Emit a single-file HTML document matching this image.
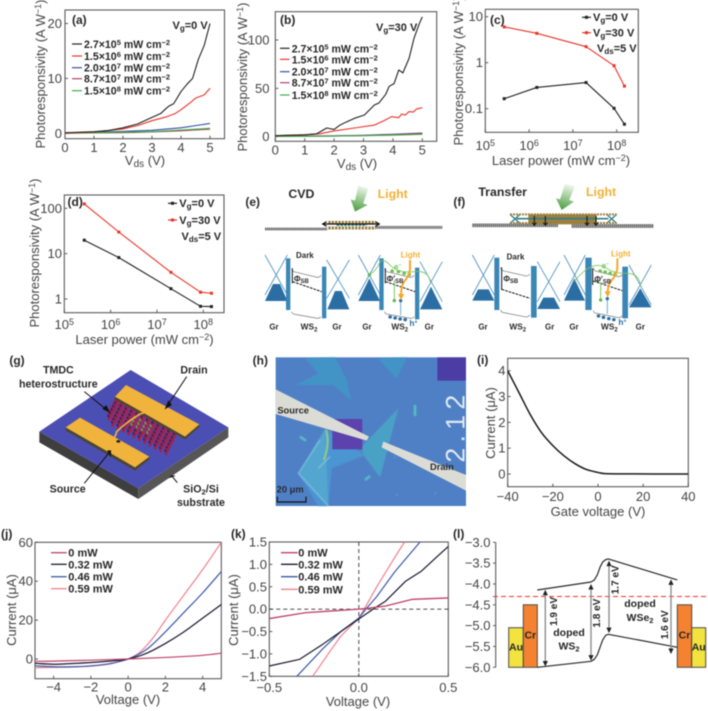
<!DOCTYPE html>
<html lang="en">
<head>
<meta charset="utf-8">
<title>Photoresponsivity figure</title>
<style>
html,body{margin:0;padding:0;background:#fff;width:708px;height:711px;overflow:hidden}
svg{display:block;filter:blur(0.4px)}
text{font-family:"Liberation Sans",Arial,sans-serif;fill:#333}
.b{font-weight:bold;fill:#262626}
.t{font-size:13px;fill:#444}
.leg{font-size:10.6px;font-weight:bold;fill:#262626}
.pl{font-size:12px;font-weight:bold;fill:#262626}
.z{font-weight:bold;fill:#2a2a2a}
.lightlab{font-weight:bold;fill:#f2b033}
</style>
</head>
<body>
<svg id="fig" xmlns="http://www.w3.org/2000/svg" width="708" height="711" viewBox="0 0 708 711">
<defs>
<linearGradient id="greenArrow" x1="0.6" y1="0" x2="0.4" y2="1"><stop offset="0" stop-color="#f0f7ec"/><stop offset="1" stop-color="#4c9f42"/></linearGradient>
<filter id="softH"><feGaussianBlur stdDeviation="1.5"/></filter>
</defs>
<g id="charts"></g>

<!-- Panel a text -->
<g>
<text class="pl" x="72" y="24">(a)</text>
<text class="b" font-size="11" x="172.5" y="29">V<tspan font-size="8" dy="2">g</tspan><tspan dy="-2">=0 V</tspan></text>
<text class="t" transform="translate(45 74) rotate(-90)" text-anchor="middle">Photoresponsivity (A W<tspan font-size="9" dy="-4">−1</tspan><tspan dy="4">)</tspan></text>
<text class="t" x="145" y="165" text-anchor="middle">V<tspan font-size="10" dy="2">ds</tspan><tspan dy="-2"> (V)</tspan></text>
<g>
<line x1="72" x2="82" y1="44" y2="44" stroke="#222" stroke-width="1.2"/>
<text class="leg" x="84" y="48">2.7×10<tspan font-size="7.5" dy="-3">5</tspan><tspan dy="3"> mW cm</tspan><tspan font-size="7.5" dy="-3">−2</tspan></text>
<line x1="72" x2="82" y1="56" y2="56" stroke="#e8352a" stroke-width="1.2"/>
<text class="leg" x="84" y="60">1.5×10<tspan font-size="7.5" dy="-3">6</tspan><tspan dy="3"> mW cm</tspan><tspan font-size="7.5" dy="-3">−2</tspan></text>
<line x1="72" x2="82" y1="67.7" y2="67.7" stroke="#2f4f9f" stroke-width="1.2"/>
<text class="leg" x="84" y="71.7">2.0×10<tspan font-size="7.5" dy="-3">7</tspan><tspan dy="3"> mW cm</tspan><tspan font-size="7.5" dy="-3">−2</tspan></text>
<line x1="72" x2="82" y1="78.7" y2="78.7" stroke="#b0405f" stroke-width="1.2"/>
<text class="leg" x="84" y="82.7">8.7×10<tspan font-size="7.5" dy="-3">7</tspan><tspan dy="3"> mW cm</tspan><tspan font-size="7.5" dy="-3">−2</tspan></text>
<line x1="72" x2="82" y1="90.7" y2="90.7" stroke="#3fae49" stroke-width="1.2"/>
<text class="leg" x="84" y="94.7">1.5×10<tspan font-size="7.5" dy="-3">8</tspan><tspan dy="3"> mW cm</tspan><tspan font-size="7.5" dy="-3">−2</tspan></text>
</g>
</g>

<!-- Panel b text -->
<g>
<text class="pl" x="280" y="24">(b)</text>
<text class="b" font-size="11" x="376" y="31">V<tspan font-size="8" dy="2">g</tspan><tspan dy="-2">=30 V</tspan></text>
<text class="t" transform="translate(247 77) rotate(-90)" text-anchor="middle">Photoresponsivity (A W<tspan font-size="9" dy="-4">−1</tspan><tspan dy="4">)</tspan></text>
<text class="t" x="357" y="168" text-anchor="middle">V<tspan font-size="10" dy="2">ds</tspan><tspan dy="-2"> (V)</tspan></text>
<g>
<line x1="280" x2="289.5" y1="48.3" y2="48.3" stroke="#222" stroke-width="1.2"/>
<text class="leg" x="291.7" y="52.3">2.7×10<tspan font-size="7.5" dy="-3">5</tspan><tspan dy="3"> mW cm</tspan><tspan font-size="7.5" dy="-3">−2</tspan></text>
<line x1="280" x2="289.5" y1="59.3" y2="59.3" stroke="#e8352a" stroke-width="1.2"/>
<text class="leg" x="291.7" y="63.3">1.5×10<tspan font-size="7.5" dy="-3">6</tspan><tspan dy="3"> mW cm</tspan><tspan font-size="7.5" dy="-3">−2</tspan></text>
<line x1="280" x2="289.5" y1="71.7" y2="71.7" stroke="#2f4f9f" stroke-width="1.2"/>
<text class="leg" x="291.7" y="75.7">2.0×10<tspan font-size="7.5" dy="-3">7</tspan><tspan dy="3"> mW cm</tspan><tspan font-size="7.5" dy="-3">−2</tspan></text>
<line x1="280" x2="289.5" y1="82.7" y2="82.7" stroke="#b0405f" stroke-width="1.2"/>
<text class="leg" x="291.7" y="86.7">8.7×10<tspan font-size="7.5" dy="-3">7</tspan><tspan dy="3"> mW cm</tspan><tspan font-size="7.5" dy="-3">−2</tspan></text>
<line x1="280" x2="289.5" y1="95" y2="95" stroke="#3fae49" stroke-width="1.2"/>
<text class="leg" x="291.7" y="99">1.5×10<tspan font-size="7.5" dy="-3">8</tspan><tspan dy="3"> mW cm</tspan><tspan font-size="7.5" dy="-3">−2</tspan></text>
</g>
</g>

<!-- Panel c text -->
<g>
<text class="pl" x="490" y="24">(c)</text>
<text class="t" transform="translate(463 71) rotate(-90)" text-anchor="middle">Photoresponsivity (A W<tspan font-size="9" dy="-4">−1</tspan><tspan dy="4">)</tspan></text>
<text class="t" x="561" y="165" text-anchor="middle">Laser power (mW cm<tspan font-size="9" dy="-4">−2</tspan><tspan dy="4">)</tspan></text>
<g>
<line x1="582" x2="591" y1="17.3" y2="17.3" stroke="#222" stroke-width="1.2"/>
<rect x="585" y="15.8" width="3" height="3" fill="#222"/>
<text class="b" font-size="11" x="593" y="21">V<tspan font-size="8" dy="2">g</tspan><tspan dy="-2">=0 V</tspan></text>
<line x1="582" x2="591" y1="32.7" y2="32.7" stroke="#e8352a" stroke-width="1.2"/>
<rect x="585" y="31.2" width="3" height="3" fill="#e8352a"/>
<text class="b" font-size="11" x="593" y="36.5">V<tspan font-size="8" dy="2">g</tspan><tspan dy="-2">=30 V</tspan></text>
<text class="b" font-size="11" x="597" y="52">V<tspan font-size="8" dy="2">ds</tspan><tspan dy="-2">=5 V</tspan></text>
</g>
</g>

<!-- Panel d text -->
<g>
<text class="pl" x="67.5" y="206">(d)</text>
<text class="t" transform="translate(39 253) rotate(-90)" text-anchor="middle">Photoresponsivity (A W<tspan font-size="9" dy="-4">−1</tspan><tspan dy="4">)</tspan></text>
<text class="t" x="144.5" y="344" text-anchor="middle">Laser power (mW cm<tspan font-size="9" dy="-4">−2</tspan><tspan dy="4">)</tspan></text>
<g>
<line x1="168" x2="177" y1="203.3" y2="203.3" stroke="#222" stroke-width="1.2"/>
<rect x="171" y="201.8" width="3" height="3" fill="#222"/>
<text class="b" font-size="11" x="179.3" y="207">V<tspan font-size="8" dy="2">g</tspan><tspan dy="-2">=0 V</tspan></text>
<line x1="168" x2="177" y1="220" y2="220" stroke="#e8352a" stroke-width="1.2"/>
<rect x="171" y="218.5" width="3" height="3" fill="#e8352a"/>
<text class="b" font-size="11" x="179.3" y="224">V<tspan font-size="8" dy="2">g</tspan><tspan dy="-2">=30 V</tspan></text>
<text class="b" font-size="11" x="181.5" y="240">V<tspan font-size="8" dy="2">ds</tspan><tspan dy="-2">=5 V</tspan></text>
</g>
</g>

<!-- Panels e and f drawn in 3x local coordinates -->
<g transform="translate(230 170) scale(0.33333)">
<text class="z" font-size="36" x="46" y="108">(e)</text>
<text class="z" font-size="37" x="175" y="84">CVD</text>
<text class="lightlab" font-size="37" x="443" y="84">Light</text>
<polygon points="385,47 415,55 400,100 413,105 375,125 362,88 375,92" fill="url(#greenArrow)"/>
<g>
<line x1="105" x2="292" y1="177" y2="177" stroke="#6e6e6e" stroke-width="8" stroke-dasharray="5 1"/>
<line x1="435" x2="637" y1="172" y2="172" stroke="#777" stroke-width="9" stroke-dasharray="5 1"/>
<line x1="295" x2="437" y1="157" y2="157" stroke="#9c7f3f" stroke-width="9" stroke-dasharray="7 3"/>
<line x1="295" x2="437" y1="174" y2="174" stroke="#9c7f3f" stroke-width="9" stroke-dasharray="7 3"/>
<line x1="320" x2="410" y1="165" y2="165" stroke="#2f7f86" stroke-width="5" stroke-dasharray="8 3"/>
<path d="M278 162H448M290 155L278 162L290 169M436 155L448 162L436 169" fill="none" stroke="#111" stroke-width="3.5"/>
</g>
<!-- e dark -->
<g>
<path d="M105 255L172 375M172 255L105 375" stroke="#4a90c0" stroke-width="2.5" fill="none"/>
<polygon points="105,393 172,393 150,342 129,342" fill="#2b6ea3"/>
<rect x="168" y="265" width="13" height="155" fill="#3a86b5"/>
<rect x="276" y="290" width="13" height="155" fill="#3a86b5"/>
<path d="M290 270L358 385M358 270L290 385" stroke="#4a90c0" stroke-width="2.5" fill="none"/>
<polygon points="292,418 358,418 335,363 315,363" fill="#2b6ea3"/>
<path d="M185 295Q187 305 195 306L262 322Q270 322 273 316M185 425Q187 433 195 433L262 445Q270 445 272 440" fill="none" stroke="#8a8a8a" stroke-width="2.5"/>
<line x1="188" y1="335" x2="275" y2="365" stroke="#111" stroke-width="3" stroke-dasharray="8 3"/>
<line x1="187" x2="187" y1="295" y2="340" stroke="#111" stroke-width="3"/>
<text class="z" font-size="24" x="192" y="334">Φ<tspan font-size="18" dy="5">SB</tspan></text>
<text class="z" font-size="24" x="198" y="264">Dark</text>
<text class="z" font-size="24" x="118" y="479">Gr</text>
<text class="z" font-size="25" x="212" y="479">WS<tspan font-size="18" dy="6">2</tspan></text>
<text class="z" font-size="24" x="307" y="479">Gr</text>
</g>
<!-- e light -->
<g>
<path d="M385 255L451 375M451 255L385 375" stroke="#4a90c0" stroke-width="2.5" fill="none"/>
<polygon points="385,393 450,393 418,325" fill="#2b6ea3"/>
<rect x="448" y="265" width="13" height="155" fill="#3a86b5"/>
<rect x="555" y="293" width="13" height="155" fill="#3a86b5"/>
<path d="M570 275L637 395M637 275L570 395" stroke="#4a90c0" stroke-width="2.5" fill="none"/>
<polygon points="570,418 637,418 603,350" fill="#2b6ea3"/>
<path d="M464 295Q466 305 474 306L541 322Q549 322 552 316M464 425Q466 433 474 433L541 445Q549 445 552 440" fill="none" stroke="#8a8a8a" stroke-width="2.5"/>
<line x1="467" y1="335" x2="555" y2="365" stroke="#111" stroke-width="3" stroke-dasharray="8 3"/>
<line x1="466" x2="466" y1="295" y2="340" stroke="#111" stroke-width="3"/>
<path d="M418 315Q440 300 448 280T480 285T550 305T600 335" fill="none" stroke="#78c85a" stroke-width="2.5"/>
<circle cx="418" cy="315" r="5" fill="#5fb648"/>
<path d="M486 303h1M505 305h1M522 310h1M537 314h1" stroke="#6cc04f" stroke-width="10" stroke-linecap="round"/>
<line x1="493" x2="493" y1="330" y2="392" stroke="#77c463" stroke-width="3"/>
<circle cx="493" cy="392" r="5" fill="#5fb648"/>
<line x1="512" x2="512" y1="392" y2="435" stroke="#6aa9cf" stroke-width="3"/>
<circle cx="512" cy="392" r="5" fill="#2b6ea3"/>
<path d="M540 270V298Q538 318 522 335Q513 348 513 380" fill="none" stroke="#f3a82a" stroke-width="6"/>
<polygon points="504,372 523,372 513,390" fill="#f3a82a"/>
<path d="M480 441h1M495 444h1M510 447h1M525 449h1" stroke="#2b6ea3" stroke-width="10" stroke-linecap="round"/>
<text class="z" font-size="24" x="470" y="334">Φ′<tspan font-size="18" dy="5">SB</tspan></text>
<text class="lightlab" font-size="24" x="512" y="263">Light</text>
<text font-size="24" font-weight="bold" style="fill:#6cc04f" x="492" y="298">e<tspan font-size="15" dy="-8">−</tspan></text>
<text font-size="25" font-weight="bold" style="fill:#2b6ea3" x="538" y="468">h<tspan font-size="16" dy="-8">+</tspan></text>
<text class="z" font-size="24" x="397" y="479">Gr</text>
<text class="z" font-size="25" x="484" y="479">WS<tspan font-size="18" dy="6">2</tspan></text>
<text class="z" font-size="24" x="584" y="479">Gr</text>
</g>

<text class="z" font-size="36" x="670" y="108">(f)</text>
<text class="z" font-size="37" x="745" y="78">Transfer</text>
<text class="lightlab" font-size="37" x="1068" y="78">Light</text>
<polygon points="1005,42 1035,48 1018,90 1032,95 995,120 978,85 990,88" fill="url(#greenArrow)"/>
<g>
<line x1="727" x2="985" y1="166" y2="166" stroke="#6e6e6e" stroke-width="11" stroke-dasharray="5 1"/>
<line x1="1025" x2="1270" y1="168" y2="168" stroke="#6e6e6e" stroke-width="11" stroke-dasharray="5 1"/>
<rect x="895" y="133" width="205" height="30" fill="#9c7f3f"/>
<path d="M840 133L870 160M870 133L840 160M1130 133L1160 160M1160 133L1130 160" stroke="#2f7f86" stroke-width="4"/>
<path d="M840 133H1160M840 159H1160" stroke="#9c7f3f" stroke-width="6" stroke-dasharray="6 3"/>
<line x1="860" x2="1135" y1="146" y2="146" stroke="#2f7f86" stroke-width="5"/>
<path d="M913 138V166M946 138V166M1071 138V166M1098 138V166M907 158L913 166L919 158M940 158L946 166L952 158M1065 158L1071 166L1077 158M1092 158L1098 166L1104 158" fill="none" stroke="#111" stroke-width="3"/>
</g>
<g>
<path d="M727 255L793 375M793 255L727 375" stroke="#4a90c0" stroke-width="2.5" fill="none"/>
<polygon points="727,392 793,392 776,358 744,358" fill="#2b6ea3"/>
<rect x="793" y="263" width="15" height="157" fill="#3a86b5"/>
<rect x="903" y="288" width="17" height="155" fill="#3a86b5"/>
<path d="M922 275L990 395M990 275L922 395" stroke="#4a90c0" stroke-width="2.5" fill="none"/>
<polygon points="922,417 990,417 972,383 940,383" fill="#2b6ea3"/>
<path d="M812 292Q814 302 822 303L888 318Q896 318 899 312M812 420Q814 428 822 428L888 441Q896 441 899 435" fill="none" stroke="#8a8a8a" stroke-width="2.5"/>
<line x1="815" y1="358" x2="900" y2="385" stroke="#111" stroke-width="3" stroke-dasharray="8 3"/>
<line x1="815" x2="815" y1="292" y2="360" stroke="#111" stroke-width="3"/>
<text class="z" font-size="24" x="820" y="334">Φ<tspan font-size="18" dy="5">SB</tspan></text>
<text class="z" font-size="24" x="830" y="269">Dark</text>
<text class="z" font-size="24" x="745" y="479">Gr</text>
<text class="z" font-size="25" x="838" y="479">WS<tspan font-size="18" dy="6">2</tspan></text>
<text class="z" font-size="24" x="945" y="479">Gr</text>
</g>
<g>
<path d="M1002 255L1066 375M1066 255L1002 375" stroke="#4a90c0" stroke-width="2.5" fill="none"/>
<polygon points="1002,392 1065,392 1033,325" fill="#2b6ea3"/>
<rect x="1066" y="263" width="19" height="157" fill="#3a86b5"/>
<rect x="1177" y="290" width="17" height="155" fill="#3a86b5"/>
<path d="M1197 285L1264 405M1264 285L1197 405" stroke="#4a90c0" stroke-width="2.5" fill="none"/>
<polygon points="1197,412 1264,412 1231,355" fill="#2b6ea3"/>
<path d="M1090 293Q1092 303 1100 304L1166 320Q1174 320 1176 314M1090 422Q1092 430 1100 430L1166 443Q1174 443 1176 437" fill="none" stroke="#8a8a8a" stroke-width="2.5"/>
<line x1="1090" y1="333" x2="1177" y2="362" stroke="#111" stroke-width="3" stroke-dasharray="8 3"/>
<line x1="1088" x2="1088" y1="295" y2="345" stroke="#111" stroke-width="3"/>
<path d="M1033 335Q1060 300 1085 290T1130 295T1190 310T1231 350" fill="none" stroke="#78c85a" stroke-width="2.5"/>
<path d="M1110 303h1M1125 306h1M1140 310h1M1155 313h1" stroke="#6cc04f" stroke-width="10" stroke-linecap="round"/>
<line x1="1112" x2="1112" y1="335" y2="390" stroke="#77c463" stroke-width="3"/>
<circle cx="1112" cy="390" r="5" fill="#5fb648"/>
<line x1="1132" x2="1132" y1="385" y2="432" stroke="#6aa9cf" stroke-width="3"/>
<circle cx="1132" cy="386" r="5" fill="#2b6ea3"/>
<path d="M1162 265V295Q1160 315 1144 332Q1133 345 1133 370" fill="none" stroke="#f3a82a" stroke-width="6"/>
<polygon points="1124,364 1142,364 1133,382" fill="#f3a82a"/>
<path d="M1105 438h1M1120 442h1M1136 446h1M1151 449h1" stroke="#2b6ea3" stroke-width="10" stroke-linecap="round"/>
<text class="z" font-size="24" x="1093" y="336">Φ′<tspan font-size="18" dy="5">SB</tspan></text>
<text class="lightlab" font-size="24" x="1143" y="260">Light</text>
<text font-size="24" font-weight="bold" style="fill:#6cc04f" x="1115" y="295">e<tspan font-size="15" dy="-8">−</tspan></text>
<text font-size="25" font-weight="bold" style="fill:#2b6ea3" x="1165" y="465">h<tspan font-size="16" dy="-8">+</tspan></text>
<text class="z" font-size="24" x="1018" y="479">Gr</text>
<text class="z" font-size="25" x="1113" y="479">WS<tspan font-size="18" dy="6">2</tspan></text>
<text class="z" font-size="24" x="1217" y="479">Gr</text>
</g>
</g>

<!-- Panel g -->
<g transform="translate(0 340) scale(0.33333)">
<polygon points="118,275 415,445 415,477 118,307" fill="#3e3e3e"/>
<polygon points="415,445 685,262 685,292 415,477" fill="#565656"/>
<polygon points="392,90 685,262 415,445 118,275" fill="#4b4fb3"/>
<polygon points="197,262 405,382 405,392 197,272" fill="#4a4630"/>
<polygon points="405,382 448,350 448,358 405,392" fill="#4a4630"/>
<g id="lattice"></g>
<polygon points="345,170 555,290 555,298 345,178" fill="#4a4630"/>
<polygon points="555,290 598,253 598,261 555,298" fill="#4a4630"/>
<polygon points="378,135 598,253 555,290 345,170" fill="#f0b33c"/>
<polygon points="197,262 240,233 448,350 405,382" fill="#f0b33c"/>
<path d="M318 312Q345 300 350 275Q375 250 420 222Q445 215 470 205" fill="none" stroke="#f0b33c" stroke-width="5"/>
<ellipse cx="355" cy="304" rx="6" ry="4" fill="#222"/>
<text class="z" font-size="36" x="28" y="74">(g)</text>
<text class="z" font-size="32" x="175" y="100" text-anchor="middle">TMDC</text>
<text class="z" font-size="32" x="175" y="142" text-anchor="middle">heterostructure</text>
<text class="z" font-size="32" x="582" y="100" text-anchor="middle">Drain</text>
<text class="z" font-size="32" x="203" y="458" text-anchor="middle">Source</text>
<text class="z" font-size="32" x="603" y="458" text-anchor="middle">SiO<tspan font-size="23" dy="6">2</tspan><tspan dy="-6">/Si</tspan></text>
<text class="z" font-size="32" x="603" y="498" text-anchor="middle">substrate</text>
<path d="M253 155L323 212M560 110L499 202M253 430L329 336M532 428L517 410" stroke="#111" stroke-width="3" fill="none"/>
<path d="M308 206L328 216L318 196M506 182L496 206L515 194M322 332L332 332L332 350M508 414L515 407L525 408" fill="#111" stroke="#111" stroke-width="2"/>
</g>

<!-- Panel h -->
<g transform="translate(250 340) scale(0.33333)">
<text class="z" font-size="36" x="8" y="74">(h)</text>
<rect x="77" y="52" width="571" height="446" fill="#4f80c6"/>
<g filter="url(#softH)">
<polygon points="137,135 205,100 165,55 255,52 290,120 303,180 250,135" fill="#4394c6"/>
<polygon points="385,55 470,52 440,115 420,95" fill="#4394c6"/>
<polygon points="335,320 445,205 390,412 340,345" fill="#4aa2c6"/>
<polygon points="145,400 225,265 345,345 245,385 235,498 205,498" fill="#4b95d2"/>
<polygon points="145,400 225,270 235,498" fill="#52a6d0"/>
<path d="M228 270Q240 310 222 360" stroke="#9ed66a" stroke-width="5" fill="none"/>
<path d="M145 400L210 300M145 400L235 498M205 385L240 350" stroke="#8fd0de" stroke-width="2.5" fill="none"/>
<path d="M495 195V228M433 350h2M555 460h2M150 290l18 12M440 465h2M345 420l15 -12" stroke="#58c4c4" stroke-width="7" fill="none"/>
</g>
<rect x="247" y="237" width="90" height="91" fill="#5b42ad"/>
<rect x="562" y="52" width="86" height="70" fill="#4b3da3"/>
<polygon points="77,148 357,290 350,302 77,222" fill="#dcdcd6"/>
<polygon points="400,305 648,405 648,452 395,322" fill="#dcdcd6"/>
<text transform="translate(643 368) rotate(-90)" font-size="80" letter-spacing="16" style="fill:#dfe8ee">2.12</text>
<text class="z" font-size="28" x="82" y="221">Source</text>
<text class="z" font-size="28" x="540" y="390">Drain</text>
<text class="z" font-size="28" x="80" y="457">20 μm</text>
<path d="M82 470V486H168V470" fill="none" stroke="#111" stroke-width="3.5"/>
</g>

<!-- Panel i, j, k, l labels -->
<g>
<text class="pl" x="477" y="364">(i)</text>
<text class="t" transform="translate(495 423) rotate(-90)" text-anchor="middle">Current (μA)</text>
<text class="t" x="598" y="516" text-anchor="middle">Gate voltage (V)</text>
</g>
<g>
<text class="pl" x="1" y="538">(j)</text>
<text class="t" transform="translate(16 610) rotate(-90)" text-anchor="middle">Current (μA)</text>
<text class="t" x="128" y="704" text-anchor="middle">Voltage (V)</text>
<g>
<line x1="51" x2="66.7" y1="552.7" y2="552.7" stroke="#c0406a" stroke-width="1.3"/>
<text class="b" font-size="11" x="68.3" y="556.7">0 mW</text>
<line x1="51" x2="66.7" y1="564.3" y2="564.3" stroke="#1a1a2e" stroke-width="1.3"/>
<text class="b" font-size="11" x="68.3" y="568.3">0.32 mW</text>
<line x1="51" x2="66.7" y1="576.7" y2="576.7" stroke="#3c59a8" stroke-width="1.3"/>
<text class="b" font-size="11" x="68.3" y="580.7">0.46 mW</text>
<line x1="51" x2="66.7" y1="588.7" y2="588.7" stroke="#f08090" stroke-width="1.3"/>
<text class="b" font-size="11" x="68.3" y="592.7">0.59 mW</text>
</g>
</g>
<g>
<text class="pl" x="231" y="538">(k)</text>
<text class="t" transform="translate(238 610) rotate(-90)" text-anchor="middle">Current (μA)</text>
<text class="t" x="358" y="706" text-anchor="middle">Voltage (V)</text>
<g>
<line x1="281" x2="297.7" y1="552.7" y2="552.7" stroke="#c0406a" stroke-width="1.3"/>
<text class="b" font-size="11" x="298.3" y="556.7">0 mW</text>
<line x1="281" x2="297.7" y1="564.3" y2="564.3" stroke="#1a1a2e" stroke-width="1.3"/>
<text class="b" font-size="11" x="298.3" y="568.3">0.32 mW</text>
<line x1="281" x2="297.7" y1="576.7" y2="576.7" stroke="#3c59a8" stroke-width="1.3"/>
<text class="b" font-size="11" x="298.3" y="580.7">0.46 mW</text>
<line x1="281" x2="297.7" y1="589.3" y2="589.3" stroke="#f08090" stroke-width="1.3"/>
<text class="b" font-size="11" x="298.3" y="593.3">0.59 mW</text>
</g>
</g>
<g>
<text class="pl" x="453" y="538">(l)</text>
<text class="b" font-size="10.5" x="569" y="636" text-anchor="middle">doped</text>
<text class="b" font-size="10.5" x="569" y="649.5" text-anchor="middle">WS<tspan font-size="7.5" dy="2">2</tspan></text>
<text class="b" font-size="10.5" x="640" y="607" text-anchor="middle">doped</text>
<text class="b" font-size="10.5" x="640" y="621" text-anchor="middle">WSe<tspan font-size="7.5" dy="2">2</tspan></text>
</g>

<script>
/* Panel (a) */
const aVdsBlack = [0,1,1.5,2,2.5,3,3.3,3.5,3.6,3.75,4,4.2,4.4,4.6,4.8,4.9,5];
const aRespBlack = [0.1,0.3,0.5,1.0,1.7,2.9,3.6,4.6,5.0,5.4,7.6,8.9,10,13.5,16,18,20];
const aVdsRed = [0,1,2,2.5,3,3.5,3.8,4,4.3,4.5,4.8,5];
const aRespRed = [0.05,0.25,0.8,1.4,2.3,3.0,3.6,4.3,5.5,6.4,7.0,8.2];
const aVdsThin = [0,2,3,4,4.5,5];
const aRespBlue = [0.05,0.35,0.55,1.0,1.4,1.8];
const aRespPurple = [0.02,0.1,0.25,0.45,0.6,0.75];
const aRespGreen = [0.03,0.2,0.3,0.6,0.75,0.9];
const aXTicks = [0,1,2,3,4,5];
const aYTicks = [0,10,20];

/* Panel (b) */
const bVdsBlack = [0,1,1.4,1.55,1.75,2,2.2,2.4,2.69,3.03,3.37,3.53,3.76,3.87,4.04,4.2,4.34,4.55,4.72,4.9,5];
const bRespBlack = [1,2,3,5.5,9,7.5,12,15,19,22.4,32.8,35,44,52,55,69,66,81,102,117,124];
const bVdsRed = [0,1,1.5,2,2.69,3.37,3.7,3.95,4.2,4.3,4.42,4.55,4.7,4.8,5];
const bRespRed = [1,2,3,6,9,12,16.6,20.7,19.7,23.5,22.4,26,25.5,28.6,30];
const bVdsThin = [0,2,3,4,5];
const bRespBlue = [0.5,0.9,1.5,2.5,3.8];
const bRespPurple = [0.4,0.7,1.2,2.1,3.2];
const bRespGreen = [0.3,0.6,1.0,1.6,2.4];
const bXTicks = [0,1,2,3,4,5];
const bYTicks = [0,50,100];

/* Panels (c), (d) */
const laserPower = [2.7e5,1.5e6,2e7,8.7e7,1.5e8];
const cVg0 = [0.165,0.29,0.37,0.102,0.046];
const cVg30 = [6.0,4.35,2.23,0.86,0.31];
const dVg0 = [19.8,8.2,1.69,0.69,0.68];
const dVg30 = [125,30,3.88,1.41,1.34];
const powerTickExponents = [5,6,7,8];
const cYTicks = [0.1,1,10];
const cYTickLabels = ["0.1","1","10"];
const dYTicks = [1,10,100];
const dYTickLabels = ["1","10","100"];

/* Panel (i) */
const iGate = [-40,-35,-30,-25,-20,-15,-10,-5,0,3,10,40];
const iCurrent = [4,3.15,2.3,1.6,1.1,0.7,0.39,0.17,0.06,0.015,0.005,0];
const iXTicks = [-40,-20,0,20,40];
const iXTickLabels = ["−40","−20","0","20","40"];
const iYTicks = [0,1,2,3,4];

/* Panel (j) */
const jV059 = [-5,-4,-3,-2,-1,-0.5,0,0.5,1,1.5,2,3,4,5];
const jI059 = [-4.5,-4.3,-4.1,-3.7,-2.6,-1.3,0,2.5,7,13,20,33,46,60];
const jV046 = [-5,-4,-3,-2,-1,0,1,2,3,4,5];
const jI046 = [-3.5,-4,-4,-3.5,-2.4,0,5,14,24,34,45];
const jI032 = [-2.2,-2.7,-2.3,-1.8,-1.1,0,3,8,14,21,28];
const jV000 = [-5,-4,-2,0,2,4,5];
const jI000 = [-1.2,-1.1,-0.6,0,0.8,1.9,3];
const jXTicks = [-4,-2,0,2,4];
const jXTickLabels = ["−4","−2","0","2","4"];
const jYTicks = [0,20,40,60];

/* Panel (k) */
const kV000 = [-0.5,-0.3,-0.15,0,0.05,0.15,0.3,0.5];
const kI000 = [-0.21,-0.08,-0.04,0,0.02,0.07,0.22,0.25];
const kV032 = [-0.5,-0.33,-0.2,-0.1,0,0.08,0.15,0.2,0.26,0.35,0.45,0.5];
const kI032 = [-1.27,-1.12,-0.78,-0.5,-0.22,0,0.18,0.38,0.62,0.85,1.22,1.4];
const kV046 = [-0.346,-0.2,-0.1,0,0.05,0.1,0.2,0.342];
const kI046 = [-1.5,-0.88,-0.5,-0.2,0.05,0.28,0.83,1.5];
const kV059 = [-0.258,-0.15,-0.1,0,0.03,0.1,0.2,0.255];
const kI059 = [-1.5,-0.88,-0.6,-0.2,0,0.5,1.15,1.5];
const kXTicks = [-0.5,0,0.5];
const kXTickLabels = ["−0.5","0.0","0.5"];
const kYTicks = [-1.5,-1,-0.5,0,0.5,1,1.5];
const kYTickLabels = ["−1.5","−1.0","−0.5","0.0","0.5","1.0","1.5"];

/* Panel (l): energies in eV against device position */
const lYTicks = [-3,-3.5,-4,-4.5,-5,-5.5,-6];
const lYTickLabels = ["−3.0","−3.5","−4.0","−4.5","−5.0","−5.5","−6.0"];
const lBandPos = [72.3,126,129.3,132.3,135,137.7,140.7,143.3,212.3];
const lConduction = [-4.144,-3.952,-3.904,-3.784,-3.6,-3.472,-3.416,-3.4,-3.904];
const lValence = [-6,-5.856,-5.808,-5.704,-5.52,-5.344,-5.232,-5.208,-5.52];
const lFermi = -4.3;
const lCrTop = -4.5;
const lAuTop = -5.05;
const lFloor = -6;
const lMetalEdges = [43.7,58.3,72.3,212.3,226.7,240.7];
const lGapPos = [80.3,126,144,206];
const lGapTop = [-4.14,-4,-3.44,-3.89];
const lGapBottom = [-5.98,-5.84,-5.18,-5.68];
const lGapLabels = ["1.9 eV","1.8 eV","1.7 eV","1.6 eV"];
const lGapLabelPos = [88.5,131.7,150,199.3];
const lGapLabelE = [-4.66,-4.7,-3.9,-4.98];

const NS = "http://www.w3.org/2000/svg";
function add(tag, attrs, parent) {
  const el = document.createElementNS(NS, tag);
  for (const k in attrs) el.setAttribute(k, attrs[k]);
  parent.appendChild(el);
  return el;
}
function lin(d0, d1, r0, r1) { return v => r0 + (v - d0) / (d1 - d0) * (r1 - r0); }
function log(d0, d1, r0, r1) { return v => r0 + (Math.log10(v) - Math.log10(d0)) / (Math.log10(d1) - Math.log10(d0)) * (r1 - r0); }
const root = document.getElementById("charts");
const AXIS = "#5a5a5a";

function makePanel(id, box) {
  const g = add("g", {}, root);
  
  
  const clip = add("clipPath", { id: id + "-clip" }, g);
  add("rect", { x: box.x0, y: box.y0, width: box.x1 - box.x0, height: box.y1 - box.y0 }, clip);
  const frame = add("rect", { x: box.x0, y: box.y0, width: box.x1 - box.x0, height: box.y1 - box.y0, fill: "none", stroke: AXIS, "stroke-width": 1.1 }, g);
  
  
  return g;
}
function xTicks(g, id, box, sx, vals, labels, base, gap) {
  vals.forEach((v, i) => {
    const t = add("line", { x1: sx(v), x2: sx(v), y1: box.y1, y2: box.y1 - 3, stroke: AXIS, "stroke-width": 1 }, g);
    
    
    const l = add("text", { x: sx(v), y: base, "text-anchor": "middle", class: "t" }, g);
    
    
    l.textContent = labels[i];
  });
}
function xTicksPow(g, id, box, exps, base) {
  exps.forEach(e => {
    const v = Math.pow(10, e);
    const t = add("line", { x1: box.sx(v), x2: box.sx(v), y1: box.y1, y2: box.y1 - 3, stroke: AXIS, "stroke-width": 1 }, g);
    
    
    const l = add("text", { x: box.sx(v), y: base, "text-anchor": "middle", class: "t" }, g);
    
    
    l.textContent = "10";
    const s = add("tspan", { dy: -4, "font-size": 9 }, l);
    s.textContent = String(e);
  });
}
function yTicks(g, id, box, sy, vals, labels, right) {
  vals.forEach((v, i) => {
    const t = add("line", { x1: box.x0, x2: box.x0 + 3, y1: sy(v), y2: sy(v), stroke: AXIS, "stroke-width": 1 }, g);
    
    
    const l = add("text", { x: right, y: sy(v) + 4.5, "text-anchor": "end", class: "t" }, g);
    
    
    l.textContent = labels[i];
  });
}
function pathD(pts, smooth) {
  let d = "M" + pts[0][0].toFixed(2) + " " + pts[0][1].toFixed(2);
  for (let i = 0; i < pts.length - 1; i++) {
    const p0 = pts[i - 1] || pts[i], p1 = pts[i], p2 = pts[i + 1], p3 = pts[i + 2] || p2;
    if (smooth) {
      const c1 = [p1[0] + (p2[0] - p0[0]) / 6, p1[1] + (p2[1] - p0[1]) / 6];
      const c2 = [p2[0] - (p3[0] - p1[0]) / 6, p2[1] - (p3[1] - p1[1]) / 6];
      d += "C" + c1[0].toFixed(2) + " " + c1[1].toFixed(2) + " " + c2[0].toFixed(2) + " " + c2[1].toFixed(2) + " " + p2[0].toFixed(2) + " " + p2[1].toFixed(2);
    } else {
      d += "L" + p2[0].toFixed(2) + " " + p2[1].toFixed(2);
    }
  }
  return d;
}
function series(g, id, name, xs, ys, sx, sy, color, width, smooth) {
  const pts = xs.map((x, i) => [sx(x), sy(ys[i])]);
  const p = add("path", { d: pathD(pts, smooth), fill: "none", stroke: color, "stroke-width": width, "clip-path": "url(#" + id + "-clip)", "stroke-linejoin": "round" }, g);
  
  
  return p;
}
function markers(g, id, name, xs, ys, sx, sy, color) {
  xs.forEach((x, i) => {
    const m = add("rect", { x: sx(x) - 1.5, y: sy(ys[i]) - 1.5, width: 3, height: 3, fill: color }, g);
    
    
  });
}
const BLK = "#222", RED = "#e8352a", BLU = "#2f4f9f", PUR = "#b0405f", GRN = "#3fae49";

/* a */
(function () {
  const box = { x0: 65, x1: 224.5, y0: 10, y1: 138.7 };
  const sx = lin(0, 5.5, 65, 224.5), sy = lin(0, 20, 133.3, 23.5);
  const g = makePanel("panel-a", box);
  xTicks(g, "panel-a", box, sx, aXTicks, aXTicks.map(String), 152);
  yTicks(g, "panel-a", box, sy, aYTicks, aYTicks.map(String), 62);
  series(g, "panel-a", "blue", aVdsThin, aRespBlue, sx, sy, BLU, 1.1);
  series(g, "panel-a", "purple", aVdsThin, aRespPurple, sx, sy, PUR, 1.1);
  series(g, "panel-a", "green", aVdsThin, aRespGreen, sx, sy, GRN, 1.1);
  series(g, "panel-a", "red", aVdsRed, aRespRed, sx, sy, RED, 1.1);
  series(g, "panel-a", "black", aVdsBlack, aRespBlack, sx, sy, BLK, 1.1);
})();
/* b */
(function () {
  const box = { x0: 275.3, x1: 436.7, y0: 11.7, y1: 141.3 };
  const sx = lin(0, 5, 275.3, 422.3), sy = lin(0, 100, 136.7, 40);
  const g = makePanel("panel-b", box);
  xTicks(g, "panel-b", box, sx, bXTicks, bXTicks.map(String), 154.5);
  yTicks(g, "panel-b", box, sy, bYTicks, bYTicks.map(String), 269.5);
  series(g, "panel-b", "blue", bVdsThin, bRespBlue, sx, sy, BLU, 1.1);
  series(g, "panel-b", "purple", bVdsThin, bRespPurple, sx, sy, PUR, 1.1);
  series(g, "panel-b", "green", bVdsThin, bRespGreen, sx, sy, GRN, 1.1);
  series(g, "panel-b", "red", bVdsRed, bRespRed, sx, sy, RED, 1.1);
  series(g, "panel-b", "black", bVdsBlack, bRespBlack, sx, sy, BLK, 1.1);
})();
/* c */
(function () {
  const sx = log(1e5, 1e8, 485.3, 616.7), sy = log(0.1, 10, 108.7, 16.7);
  const box = { x0: 485.3, x1: 638.3, y0: 9.3, y1: 132.3, sx: sx };
  const g = makePanel("panel-c", box);
  xTicksPow(g, "panel-c", box, powerTickExponents, 150);
  yTicks(g, "panel-c", box, sy, cYTicks, cYTickLabels, 483);
  series(g, "panel-c", "vg0", laserPower, cVg0, sx, sy, BLK, 1.1);
  series(g, "panel-c", "vg30", laserPower, cVg30, sx, sy, RED, 1.1);
  markers(g, "panel-c", "vg0", laserPower, cVg0, sx, sy, BLK);
  markers(g, "panel-c", "vg30", laserPower, cVg30, sx, sy, RED);
})();
/* d */
(function () {
  const sx = log(1e5, 1e8, 64.3, 203.3), sy = log(1, 100, 299, 208.3);
  const box = { x0: 64.3, x1: 224, y0: 195, y1: 312.7, sx: sx };
  const g = makePanel("panel-d", box);
  xTicksPow(g, "panel-d", box, powerTickExponents, 329);
  yTicks(g, "panel-d", box, sy, dYTicks, dYTickLabels, 62);
  series(g, "panel-d", "vg0", laserPower, dVg0, sx, sy, BLK, 1.1);
  series(g, "panel-d", "vg30", laserPower, dVg30, sx, sy, RED, 1.1);
  markers(g, "panel-d", "vg0", laserPower, dVg0, sx, sy, BLK);
  markers(g, "panel-d", "vg30", laserPower, dVg30, sx, sy, RED);
})();
/* i */
(function () {
  const box = { x0: 507.7, x1: 688.3, y0: 358.3, y1: 486.7 };
  const sx = lin(-40, 40, 507.7, 688.3), sy = lin(0, 4, 474, 370.7);
  const g = makePanel("panel-i", box);
  xTicks(g, "panel-i", box, sx, iXTicks, iXTickLabels, 501);
  yTicks(g, "panel-i", box, sy, iYTicks, iYTicks.map(String), 505.5);
  series(g, "panel-i", "transfer-curve", iGate, iCurrent, sx, sy, "#1a1a1a", 1.5, true);
})();
/* j */
(function () {
  const box = { x0: 35, x1: 221.3, y0: 542.3, y1: 678.7 };
  const sx = lin(-5, 5, 35, 221.3), sy = lin(0, 60, 659, 542.3);
  const g = makePanel("panel-j", box);
  xTicks(g, "panel-j", box, sx, jXTicks, jXTickLabels, 691.5);
  yTicks(g, "panel-j", box, sy, jYTicks, jYTicks.map(String), 33);
  series(g, "panel-j", "059mw", jV059, jI059, sx, sy, "#f08090", 1.2, true);
  series(g, "panel-j", "046mw", jV046, jI046, sx, sy, "#3c59a8", 1.2, true);
  series(g, "panel-j", "032mw", jV046, jI032, sx, sy, "#1a1a2e", 1.2, true);
  series(g, "panel-j", "0mw", jV000, jI000, sx, sy, "#c0406a", 1.2, true);
})();
/* k */
(function () {
  const box = { x0: 269.3, x1: 448.3, y0: 542, y1: 676.3 };
  const sx = lin(-0.5, 0.5, 269.3, 448.3), sy = lin(-1.5, 1.5, 676.3, 542);
  const g = makePanel("panel-k", box);
  xTicks(g, "panel-k", box, sx, kXTicks, kXTickLabels, 692);
  yTicks(g, "panel-k", box, sy, kYTicks, kYTickLabels, 267);
  const hz = add("line", { x1: box.x0, x2: box.x1, y1: sy(0), y2: sy(0), stroke: "#333", "stroke-width": 0.9, "stroke-dasharray": "4 3" }, g);
  
  
  const vt = add("line", { x1: sx(0), x2: sx(0), y1: box.y0, y2: box.y1, stroke: "#333", "stroke-width": 0.9, "stroke-dasharray": "4 3" }, g);
  
  
  series(g, "panel-k", "059mw", kV059, kI059, sx, sy, "#f08090", 1.2);
  series(g, "panel-k", "046mw", kV046, kI046, sx, sy, "#3c59a8", 1.2);
  series(g, "panel-k", "032mw", kV032, kI032, sx, sy, "#1a1a2e", 1.2);
  series(g, "panel-k", "0mw", kV000, kI000, sx, sy, "#c0406a", 1.3);
})();
/* l */
(function () {
  const sx = lin(0, 100, 465, 565), sy = lin(-6, -3, 667.3, 542.3);
  const g = add("g", {}, root);
  
  
  const axis = add("line", { x1: 495.7, x2: 495.7, y1: sy(-3), y2: sy(-6), stroke: AXIS, "stroke-width": 1.1 }, g);
  
  
  lYTicks.forEach((v, i) => {
    const t = add("line", { x1: 493, x2: 495.7, y1: sy(v), y2: sy(v), stroke: AXIS, "stroke-width": 1 }, g);
    
    
    const l = add("text", { x: 490.5, y: sy(v) + 4.5, "text-anchor": "end", class: "t" }, g);
    
    
    l.textContent = lYTickLabels[i];
  });
  const metals = [
    [0, 1, lAuTop, "#f2e33f", "Au", "left-au"],
    [1, 2, lCrTop, "#f58230", "Cr", "left-cr"],
    [3, 4, lCrTop, "#f58230", "Cr", "right-cr"],
    [4, 5, lAuTop, "#f2e33f", "Au", "right-au"]
  ];
  metals.forEach(m => {
    const r = add("rect", { x: sx(lMetalEdges[m[0]]), y: sy(m[2]), width: sx(lMetalEdges[m[1]]) - sx(lMetalEdges[m[0]]), height: sy(lFloor) - sy(m[2]), fill: m[3], stroke: "#4a4a4a", "stroke-width": 1 }, g);
    
    
    const t = add("text", { x: (sx(lMetalEdges[m[0]]) + sx(lMetalEdges[m[1]])) / 2, y: m[4] === "Au" ? 650.7 : 638.3, "text-anchor": "middle", class: "b", "font-size": 10.5 }, g);
    
    
    t.textContent = m[4];
  });
  const up = add("path", { d: pathD(lBandPos.map((p, i) => [sx(p), sy(lConduction[i])]), false), fill: "none", stroke: "#2a2a2a", "stroke-width": 1.2, "stroke-linejoin": "round" }, g);
  
  
  const lo = add("path", { d: pathD(lBandPos.map((p, i) => [sx(p), sy(lValence[i])]), false), fill: "none", stroke: "#2a2a2a", "stroke-width": 1.2, "stroke-linejoin": "round" }, g);
  
  
  const fermi = add("line", { x1: 493, x2: 708, y1: sy(lFermi), y2: sy(lFermi), stroke: "#e8352a", "stroke-width": 1, "stroke-dasharray": "5 3" }, g);
  
  
  lGapPos.forEach((p, i) => {
    const x = sx(p), a = sy(lGapTop[i]), b = sy(lGapBottom[i]);
    const shaft = add("line", { x1: x, x2: x, y1: a + 3, y2: b - 3, stroke: "#8e8e8e", "stroke-width": 1.4 }, g);
    
    
    const heads = add("path", { d: "M" + x + " " + a + "l-2.6 5.5h5.2zM" + x + " " + b + "l-2.6 -5.5h5.2z", fill: "#222" }, g);
    
    
    const t = add("text", { transform: "translate(" + sx(lGapLabelPos[i]) + " " + sy(lGapLabelE[i]) + ") rotate(-90)", "text-anchor": "middle", y: 3.5, class: "b", "font-size": 10 }, g);
    
    
    t.textContent = lGapLabels[i];
  });
})();
/* decorative lattice in panel g */
(function () {
  const host = document.getElementById("lattice");
  for (let i = 0; i < 12; i++) {
    for (let j = 0; j < 8; j++) {
      const x = 322 + i * 16 + j * 5;
      const y = 238 + i * 8.5 - j * 10;
      if (y < 175 || i + j < 1) continue;
      const mid = add("circle", { cx: x, cy: y, r: 5, fill: (i >= 4 && i <= 7 && j >= 2 && j <= 4) ? "#3fb56a" : "#1f2c6e" }, host);
      
      
      const top = add("circle", { cx: x, cy: y - 9, r: 5, fill: "#a8204a" }, host);
      
      
      const bot = add("circle", { cx: x, cy: y + 9, r: 5, fill: "#a8204a" }, host);
      
      
    }
  }
})();
</script>
</svg>
</body>
</html>
